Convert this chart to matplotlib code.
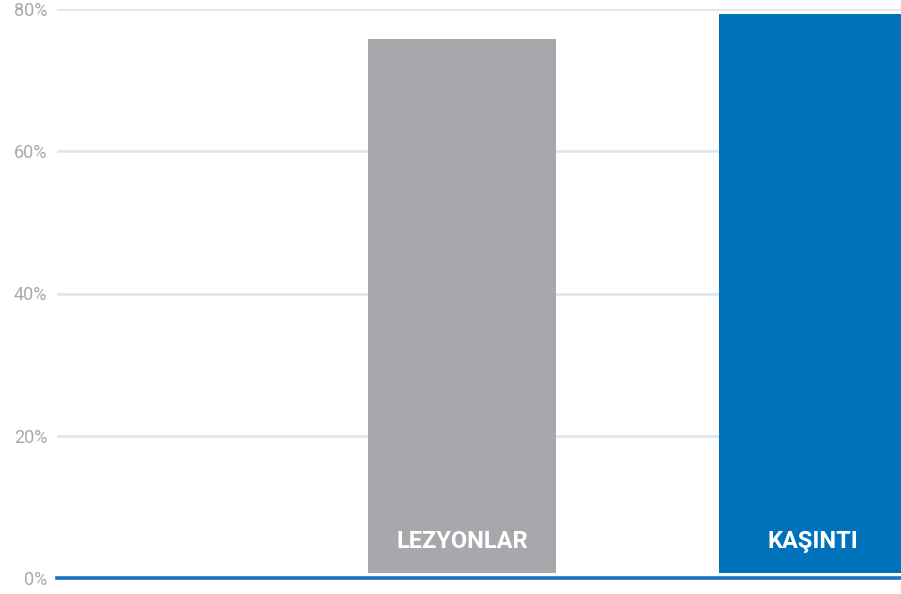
import matplotlib
matplotlib.use("Agg")
import matplotlib.pyplot as plt

categories = ["LEZYONLAR", "KAŞINTI"]
values = [75.8, 79.3]
colors = ["#a7a8ab", "#0072bc"]
yticks = [0, 20, 40, 60, 80]
ytick_labels = ["0%", "20%", "40%", "60%", "80%"]

fig = plt.figure(figsize=(9.01, 5.94), dpi=100)
ax = fig.add_axes([57/901, 16/594, 1 - 57/901, 569/594])

positions = [1, 2]
bar_bottom = 0.7
heights = [v - bar_bottom for v in values]
ax.bar(positions, heights, width=0.536, bottom=bar_bottom, color=colors, zorder=3)

for p, c in zip(positions, categories):
    ax.text(p, 5.1, c, ha="center", va="center", color="white",
            fontsize=17, fontweight="bold", family=["Roboto", "DejaVu Sans"],
            zorder=4)

ax.set_xlim(-0.154, 2.251)
ax.set_ylim(0, 80)
ax.set_yticks(yticks)
ax.set_yticklabels(ytick_labels)
ax.set_xticks([])
for s in ax.spines.values():
    s.set_visible(False)
ax.yaxis.grid(True, color="#dfe5ef", linewidth=1.8, zorder=0)
ax.tick_params(axis="y", length=0, pad=7, labelsize=13, labelcolor="#a9a9ad")
for lbl in ax.get_yticklabels():
    lbl.set_family(["Roboto", "DejaVu Sans"])
ax.axhline(0, color="#1b74c0", linewidth=2.6, zorder=5, clip_on=False)

fig.savefig("out.png", dpi=100)
